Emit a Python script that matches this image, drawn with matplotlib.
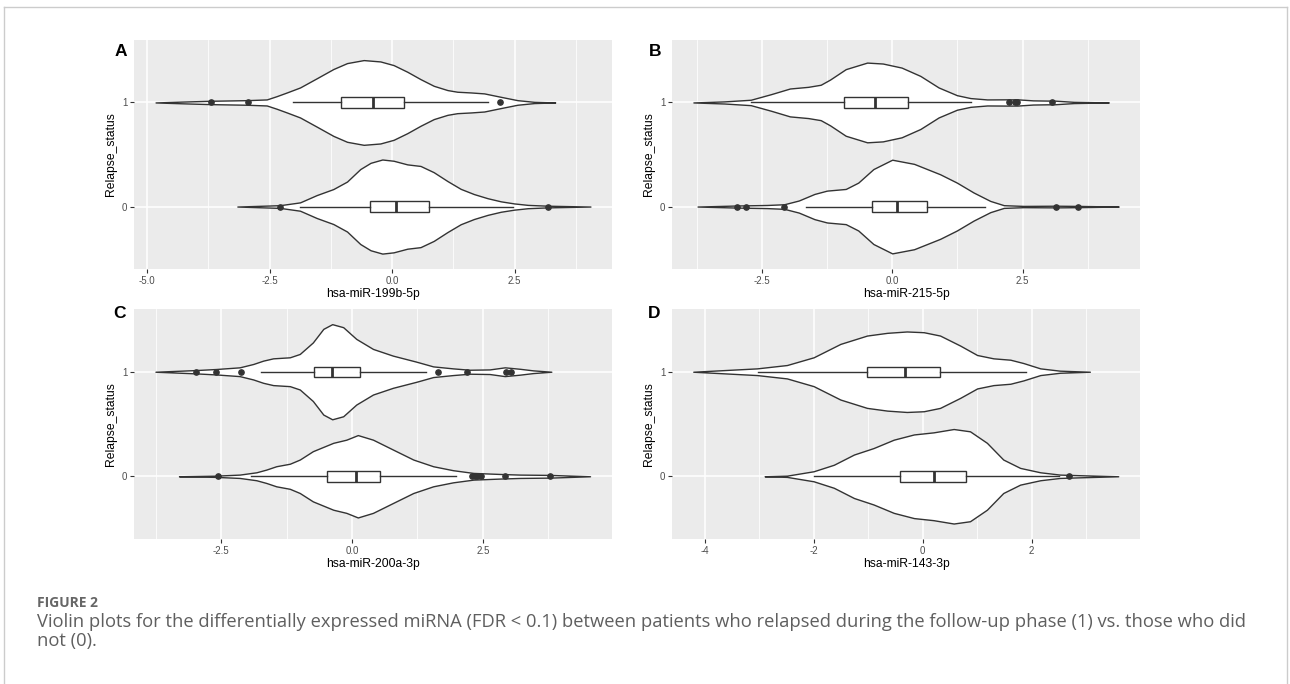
import matplotlib
matplotlib.use("Agg")
import matplotlib.pyplot as plt
from matplotlib.lines import Line2D

# ---------------- data ----------------
panel_letters = ["A", "B", "C", "D"]
x_titles = ["hsa-miR-199b-5p", "hsa-miR-215-5p", "hsa-miR-200a-3p", "hsa-miR-143-3p"]
y_title = "Relapse_status"
y_categories = ["0", "1"]

# violin profiles: position along x and half-width (in category units)
a1_x = [-4.83, -4.30, -3.72, -2.97, -2.56, -2.36, -2.15, -1.88, -1.54, -1.20, -0.92, -0.58,
        -0.24, 0.03, 0.31, 0.58, 0.85, 1.13, 1.33, 1.61, 1.88, 2.22, 2.56, 2.90, 3.33]
a1_w = [0.0, 0.008, 0.016, 0.022, 0.029, 0.06, 0.096, 0.144, 0.232, 0.321, 0.378, 0.407,
        0.394, 0.359, 0.295, 0.224, 0.16, 0.119, 0.103, 0.096, 0.087, 0.054, 0.022, 0.006, 0.0]
a0_x = [-3.16, -2.29, -1.88, -1.54, -1.20, -0.92, -0.65, -0.44, -0.20, 0.03, 0.31, 0.58,
        0.85, 1.13, 1.40, 1.67, 1.95, 2.22, 2.49, 2.77, 3.18, 4.05]
a0_w = [0.0, 0.013, 0.04, 0.11, 0.168, 0.24, 0.36, 0.42, 0.452, 0.44, 0.405, 0.39,
        0.33, 0.245, 0.17, 0.12, 0.08, 0.05, 0.03, 0.016, 0.008, 0.0]

b1_x = [-3.81, -3.22, -2.71, -2.32, -1.96, -1.61, -1.37, -1.19, -0.89, -0.48, -0.18, 0.18,
        0.54, 0.89, 1.24, 1.50, 1.82, 2.20, 2.40, 2.70, 2.97, 3.10, 3.48, 4.15]
b1_w = [0.0, 0.01, 0.026, 0.08, 0.134, 0.15, 0.17, 0.22, 0.32, 0.383, 0.374, 0.335,
        0.255, 0.144, 0.07, 0.042, 0.029, 0.03, 0.03, 0.02, 0.018, 0.018, 0.006, 0.0]
b0_x = [-3.73, -2.97, -2.40, -2.07, -1.79, -1.49, -1.25, -0.89, -0.65, -0.36, 0.0, 0.42,
        0.67, 0.92, 1.24, 1.56, 1.88, 2.14, 2.52, 3.14, 3.57, 4.34]
b0_w = [0.0, 0.01, 0.015, 0.022, 0.058, 0.121, 0.153, 0.169, 0.23, 0.36, 0.45, 0.41,
        0.36, 0.31, 0.23, 0.135, 0.054, 0.013, 0.006, 0.008, 0.006, 0.0]

c1_x = [-3.76, -2.98, -2.60, -2.15, -1.89, -1.70, -1.51, -1.19, -1.00, -0.75, -0.55, -0.38,
        -0.17, 0.08, 0.40, 0.78, 1.23, 1.55, 1.93, 2.25, 2.63, 2.92, 3.21, 3.46, 3.81]
c1_w = [0.0, 0.016, 0.026, 0.042, 0.074, 0.106, 0.128, 0.138, 0.17, 0.28, 0.41, 0.455,
        0.426, 0.314, 0.218, 0.154, 0.096, 0.051, 0.032, 0.019, 0.022, 0.042, 0.028, 0.013, 0.0]
c0_x = [-3.31, -2.60, -2.15, -1.83, -1.64, -1.45, -1.19, -1.00, -0.75, -0.36, -0.11, 0.11,
        0.40, 0.78, 1.17, 1.55, 1.93, 2.32, 2.83, 3.21, 3.78, 4.55]
c0_w = [0.0, 0.006, 0.016, 0.038, 0.064, 0.096, 0.12, 0.16, 0.24, 0.32, 0.35, 0.394,
        0.35, 0.256, 0.16, 0.096, 0.058, 0.032, 0.022, 0.016, 0.013, 0.0]

d1_x = [-4.21, -3.04, -2.49, -2.00, -1.51, -1.02, -0.65, -0.29, 0.02, 0.32, 0.69, 1.00,
        1.30, 1.61, 1.85, 2.16, 2.52, 3.07]
d1_w = [0.0, 0.032, 0.064, 0.138, 0.266, 0.346, 0.372, 0.385, 0.378, 0.346, 0.25, 0.16,
        0.128, 0.115, 0.083, 0.032, 0.01, 0.0]
d0_x = [-2.90, -2.49, -2.00, -1.63, -1.26, -0.90, -0.53, -0.16, 0.20, 0.57, 0.87, 1.18,
        1.48, 1.79, 2.16, 2.52, 2.89, 3.59]
d0_w = [0.0, 0.006, 0.048, 0.11, 0.208, 0.27, 0.35, 0.4, 0.42, 0.452, 0.43, 0.32,
        0.16, 0.08, 0.038, 0.016, 0.01, 0.0]

# box statistics: [whisker low, q1, median, q3, whisker high]
a1_box = [-2.03, -1.04, -0.39, 0.24, 1.95]
a1_out = [-3.69, -2.95, 2.21]
a0_box = [-1.88, -0.46, 0.07, 0.75, 2.46]
a0_out = [-2.28, 3.18]
b1_box = [-2.71, -0.92, -0.33, 0.31, 1.52]
b1_out = [2.24, 2.36, 2.40, 3.07]
b0_box = [-1.65, -0.38, 0.10, 0.67, 1.77]
b0_out = [-2.97, -2.81, -2.07, 3.14, 3.57]
c1_box = [-1.75, -0.73, -0.38, 0.16, 1.41]
c1_out = [-2.98, -2.60, -2.13, 1.65, 2.20, 2.94, 3.04]
c0_box = [-1.93, -0.48, 0.08, 0.53, 1.98]
c0_out = [-2.57, 2.30, 2.35, 2.38, 2.47, 2.93, 3.79]
d1_box = [-3.02, -1.03, -0.33, 0.31, 1.89]
d1_out = []
d0_box = [-2.00, -0.42, 0.20, 0.80, 2.50]
d0_out = [2.69]

x_major = [[-5.0, -2.5, 0.0, 2.5], [-2.5, 0.0, 2.5], [-2.5, 0.0, 2.5], [-4, -2, 0, 2]]
x_major_labels = [["-5.0", "-2.5", "0.0", "2.5"], ["-2.5", "0.0", "2.5"],
                  ["-2.5", "0.0", "2.5"], ["-4", "-2", "0", "2"]]
x_minor = [[-3.75, -1.25, 1.25, 3.75], [-3.75, -1.25, 1.25, 3.75],
           [-3.75, -1.25, 1.25, 3.75], [-3, -1, 1, 3]]

caption_head = "FIGURE 2"
caption_lines = ["Violin plots for the differentially expressed miRNA (FDR < 0.1) between patients who relapsed during the follow-up phase (1) vs. those who did",
                 "not (0)."]

# ---------------- layout ----------------
W, H = 1290, 684
fig = plt.figure(figsize=(W / 100, H / 100), dpi=100)
fig.patch.set_facecolor("white")

def rect(l, t, r, b):
    return [l / W, 1 - b / H, (r - l) / W, (b - t) / H]

boxes_px = [(134, 40, 612, 269), (672, 40, 1140, 269), (134, 309, 612, 539), (672, 309, 1140, 539)]
xlims = [(-5.27, 4.49), (-4.22, 4.75), (-4.17, 4.97), (-4.60, 3.99)]
letter_pos = [(121, 51), (655, 51), (119, 313), (654, 313)]

violins = [
    [(a0_x, a0_w, a0_box, a0_out), (a1_x, a1_w, a1_box, a1_out)],
    [(b0_x, b0_w, b0_box, b0_out), (b1_x, b1_w, b1_box, b1_out)],
    [(c0_x, c0_w, c0_box, c0_out), (c1_x, c1_w, c1_box, c1_out)],
    [(d0_x, d0_w, d0_box, d0_out), (d1_x, d1_w, d1_box, d1_out)],
]

line_c = "#333333"
sans = ["Liberation Sans", "DejaVu Sans"]

for i in range(4):
    ax = fig.add_axes(rect(*boxes_px[i]))
    ax.set_facecolor("#EBEBEB")
    for s in ax.spines.values():
        s.set_visible(False)
    ax.set_xlim(*xlims[i])
    ax.set_ylim(-0.6, 1.6)
    ax.set_xticks(x_major[i])
    ax.set_xticklabels(x_major_labels[i])
    ax.set_xticks(x_minor[i], minor=True)
    ax.set_yticks([0, 1])
    ax.set_yticklabels(y_categories)
    ax.grid(which="major", color="white", linewidth=1.1, zorder=0)
    ax.grid(which="minor", axis="x", color="white", linewidth=0.55, zorder=0)
    ax.set_axisbelow(True)
    ax.tick_params(which="major", length=2.7, width=0.8, color=line_c,
                   labelsize=7, labelcolor="#4D4D4D", pad=2)
    ax.tick_params(which="minor", length=0)
    for lab in ax.get_xticklabels() + ax.get_yticklabels():
        lab.set_fontfamily(sans)

    for pos, (vx, vw, bx, bo) in enumerate(violins[i]):
        lo = [pos - w for w in vw]
        hi = [pos + w for w in vw]
        ax.fill_between(vx, lo, hi, facecolor="white", edgecolor=line_c,
                        linewidth=1.0, zorder=2)
        stats = [dict(whislo=bx[0], q1=bx[1], med=bx[2], q3=bx[3], whishi=bx[4], fliers=bo)]
        ax.bxp(stats, positions=[pos], widths=0.1, orientation="horizontal",
               patch_artist=True, showcaps=False, manage_ticks=False,
               boxprops=dict(facecolor="white", edgecolor=line_c, linewidth=1.0),
               whiskerprops=dict(color=line_c, linewidth=1.0),
               medianprops=dict(color=line_c, linewidth=2.0),
               flierprops=dict(marker="o", markersize=3.8, markerfacecolor=line_c,
                               markeredgecolor=line_c, linestyle="none"),
               zorder=3)

    ax.set_xlabel(x_titles[i], fontsize=8.7, color="black", family=sans, labelpad=2)
    ax.set_ylabel(y_title, fontsize=8.7, color="black", family=sans, labelpad=4)
    lx, ly = letter_pos[i]
    fig.text(lx / W, 1 - ly / H, panel_letters[i], fontsize=12.5, fontweight="bold",
             family=sans, ha="center", va="center")

# outer frame
frame_c = "#CCCCCC"
xl, xr, yt = 4 / W, 1287 / W, 1 - 7 / H
fig.add_artist(Line2D([xl, xl], [0, yt], color=frame_c, lw=1.0, transform=fig.transFigure))
fig.add_artist(Line2D([xl, xr], [yt, yt], color=frame_c, lw=1.0, transform=fig.transFigure))
fig.add_artist(Line2D([xr, xr], [0, yt], color=frame_c, lw=1.0, transform=fig.transFigure))

cap_font = ["Open Sans", "DejaVu Sans"]
fig.text(37 / W, 1 - 603 / H, caption_head, fontsize=10, fontweight="bold", color="#666666",
         family=cap_font, ha="left", va="center")
fig.text(37 / W, 1 - 622 / H, caption_lines[0], fontsize=13.2, color="#5F5F5F",
         family=cap_font, ha="left", va="center")
fig.text(37 / W, 1 - 641 / H, caption_lines[1], fontsize=13.2, color="#5F5F5F",
         family=cap_font, ha="left", va="center")

fig.savefig("out.png", dpi=100)
